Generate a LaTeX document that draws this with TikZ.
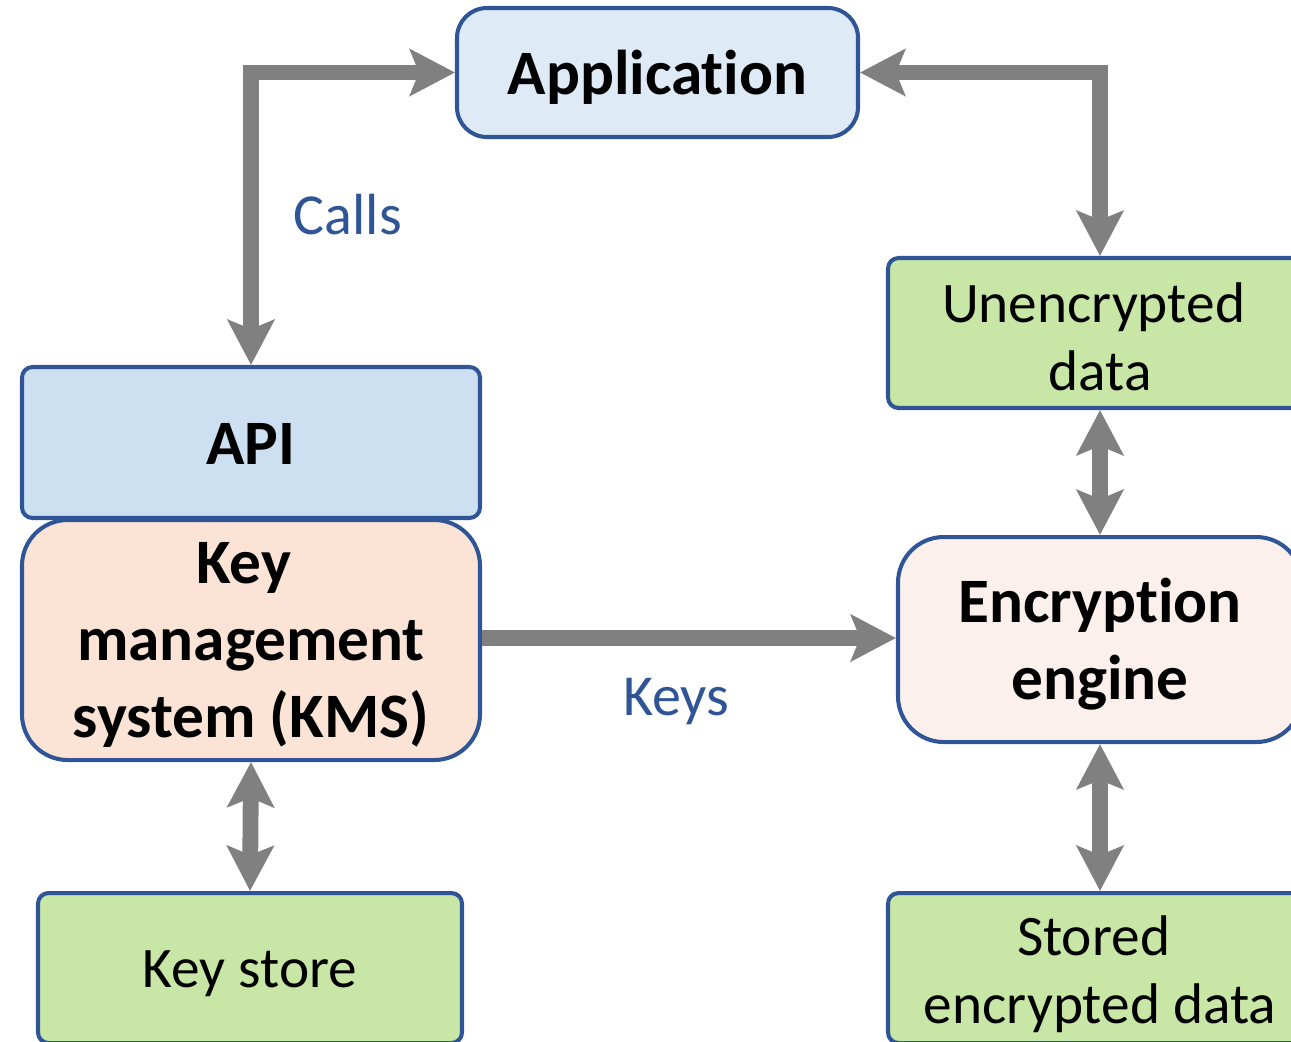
\documentclass[tikz,border=0pt]{standalone}
\usepackage{fontspec}
\setmainfont{Carlito}[Ligatures=NoCommon]
\usetikzlibrary{arrows.meta}
\definecolor{bordc}{HTML}{2F5597}
\definecolor{appfill}{HTML}{DEEBF7}
\definecolor{apifill}{HTML}{CDE0F2}
\definecolor{kmsfill}{HTML}{FBE4D6}
\definecolor{encfill}{HTML}{FBF0EB}
\definecolor{grnfill}{HTML}{C8E6A6}
\definecolor{arrc}{HTML}{808080}
\definecolor{lblc}{HTML}{2F5597}
\tikzset{
  box/.style={draw=bordc, line width=1.15pt, inner sep=0pt},
  boldtxt/.style={font=\fontsize{18}{21.9}\selectfont\bfseries, align=center, text=black, inner sep=0pt},
  regtxt/.style={font=\fontsize{16.3}{19.3}\selectfont, align=center, text=black, inner sep=0pt},
  conn/.style={draw=arrc, line width=4.5pt},
  tip/.tip={Stealth[length=12.8pt, width=13.2pt, inset=2.6pt]},
  lbl/.style={text=lblc, font=\fontsize{16.5}{20}\selectfont}
}
\begin{document}
\begin{tikzpicture}[x=0.01cm, y=-0.01cm]
\useasboundingbox (0,0) rectangle (1291,1041);
\clip (0,0) rectangle (1291,1041);
\node[box, fill=appfill, rounded corners=8.5pt, minimum width=401*0.01cm, minimum height=129*0.01cm,
  label={[boldtxt, yshift=-5*0.01cm]center:Application}] (app) at (657.5,72.5) {};
\node[box, fill=apifill, rounded corners=3pt, minimum width=458*0.01cm, minimum height=151*0.01cm,
  label={[boldtxt, yshift=-1*0.01cm]center:API}] (api) at (251,442.5) {};
\node[box, fill=kmsfill, rounded corners=13pt, minimum width=458*0.01cm, minimum height=240*0.01cm,
  label={[boldtxt, yshift=-5*0.01cm]center:Key\hspace*{0.226em}\\management\hspace*{0.226em}\\system (KMS)}] (kms) at (251,640) {};
\node[box, fill=grnfill, rounded corners=3pt, minimum width=424*0.01cm, minimum height=150*0.01cm,
  label={[regtxt, yshift=-6*0.01cm]center:Key store}] (ks) at (250,968) {};
\node[box, fill=grnfill, rounded corners=3pt, minimum width=424*0.01cm, minimum height=150*0.01cm,
  label={[regtxt, yshift=-4*0.01cm]center:Unencrypted\hspace*{0.226em}\\data}] (unenc) at (1100,333) {};
\node[box, fill=encfill, rounded corners=13pt, minimum width=404*0.01cm, minimum height=205*0.01cm,
  label={[boldtxt, yshift=-5*0.01cm]center:Encryption\\engine}] (enc) at (1100,639.5) {};
\node[box, fill=grnfill, rounded corners=3pt, minimum width=424*0.01cm, minimum height=150*0.01cm,
  label={[regtxt, yshift=-6*0.01cm]center:Stored\hspace*{0.226em}\\encrypted data}] (stored) at (1100,968) {};
\node[lbl] (calls) at (348,215) {Calls};
\node[lbl] (keys) at (676,702) {Keys};
\draw[conn, {tip}-{tip}] (api.north) |- (app.west);
\draw[conn, {tip}-{tip}] (app.east) -| (unenc.north);
\draw[conn, {tip}-{tip}] (unenc.south) -- (enc.north);
\draw[conn, {tip}-{tip}] (enc.south) -- (stored.north);
\draw[conn, {tip}-{tip}] (kms.south) -- (ks.north);
\draw[conn, -{tip}] (kms.east |- 0,638) -- (enc.west |- 0,638);
\end{tikzpicture}
\end{document}
